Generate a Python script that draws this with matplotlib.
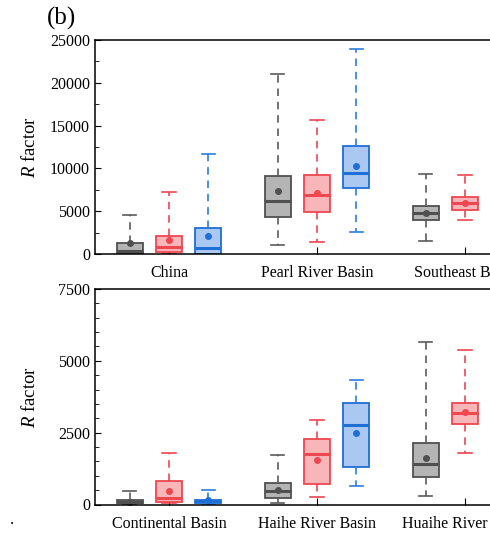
import numpy as np
import matplotlib
matplotlib.use('Agg')
import matplotlib.pyplot as plt

plt.rcParams['font.family'] = ['Liberation Serif', 'DejaVu Serif']
plt.rcParams['mathtext.fontset'] = 'custom'
plt.rcParams['mathtext.it'] = 'Liberation Serif:italic'
plt.rcParams['mathtext.rm'] = 'Liberation Serif'

# Regions (third group is cut off at the right edge of the picture)
top_regions = ['China', 'Pearl River Basin', 'Southeast Basin']
bottom_regions = ['Continental Basin', 'Haihe River Basin', 'Huaihe River Basin']

# Box statistics, one inner list per series (gray, red, blue), one value per region
top_whislo = [[0, 1010, 1480], [0, 1440, 4010], [0, 2530, 4500]]
top_q1 = [[50, 4320, 3970], [270, 4900, 5140], [50, 7750, 6000]]
top_med = [[350, 6150, 4830], [850, 6850, 5960], [660, 9420, 7000]]
top_q3 = [[1250, 9150, 5650], [2100, 9190, 6620], [3040, 12650, 8000]]
top_whishi = [[4560, 21030, 9300], [7280, 15650, 9190], [11680, 23910, 11000]]
top_mean = [[1250, 7320, 4830], [1640, 7090, 5960], [2070, 10320, 7200]]

bot_whislo = [[0, 35, 313], [35, 267, 1800], [0, 639, 2000]]
bot_q1 = [[35, 209, 940], [90, 720, 2810], [58, 1312, 3000]]
bot_med = [[90, 453, 1393], [220, 1765, 3193], [128, 2763, 3600]]
bot_q3 = [[150, 731, 2148], [813, 2276, 3530], [174, 3518, 4200]]
bot_whishi = [[464, 1707, 5666], [1776, 2937, 5364], [522, 4331, 6000]]
bot_mean = [[100, 500, 1614], [453, 1533, 3216], [150, 2473, 3700]]

face_colors = ['#b4b4b4', '#f8b6b9', '#aac8f1']
edge_colors = ['#505050', '#ee4750', '#1e6fd6']
whisk_colors = ['#5a5a5a', '#ee4750', '#2a7de0']

offset = 0.264
box_w = 0.176


def draw_panel(ax, regions, whislo, q1, med, q3, whishi, mean):
    centers = np.arange(1, len(regions) + 1)
    for s in range(3):
        stats = []
        for r in range(len(regions)):
            stats.append(dict(whislo=whislo[s][r], q1=q1[s][r], med=med[s][r],
                              q3=q3[s][r], whishi=whishi[s][r], mean=mean[s][r],
                              fliers=[]))
        pos = centers + (s - 1) * offset
        ax.bxp(stats, positions=pos, widths=box_w, patch_artist=True,
               showmeans=True, manage_ticks=False,
               boxprops=dict(facecolor=face_colors[s], edgecolor=edge_colors[s], linewidth=1.3),
               medianprops=dict(color=edge_colors[s], linewidth=2.2),
               whiskerprops=dict(color=whisk_colors[s], linewidth=1.2, linestyle=(0, (4.5, 3.5))),
               capprops=dict(color=whisk_colors[s], linewidth=1.2),
               capwidths=box_w * 0.5,
               meanprops=dict(marker='o', markersize=4, markerfacecolor=edge_colors[s],
                              markeredgecolor=edge_colors[s]))
    ax.set_xticks(centers)
    ax.set_xticklabels(regions, fontsize=11.5)
    ax.set_xlim(0.5, 0.5 + 395 / 148)
    ax.spines['right'].set_visible(False)
    for sp in ['left', 'bottom', 'top']:
        ax.spines[sp].set_linewidth(1.1)
    ax.tick_params(axis='both', which='both', direction='in', labelsize=11.5)
    ax.tick_params(axis='x', length=5, pad=8)
    ax.tick_params(axis='y', which='major', length=4)
    ax.tick_params(axis='y', which='minor', length=3)
    ax.set_ylabel('$R$ factor', fontsize=13.5)
    ax.yaxis.set_label_coords(-0.143, 0.5)


fig = plt.figure(figsize=(4.9, 5.38), dpi=100)
ax1 = fig.add_axes([95 / 490, 1 - 254 / 538, 1 - 95 / 490, 214 / 538])
ax2 = fig.add_axes([95 / 490, 1 - 504.5 / 538, 1 - 95 / 490, 215.5 / 538])

draw_panel(ax1, top_regions, top_whislo, top_q1, top_med, top_q3, top_whishi, top_mean)
ax1.set_ylim(0, 25000)
ax1.set_yticks(np.arange(0, 25001, 5000))
ax1.set_yticks(np.arange(0, 25001, 2500), minor=True)

draw_panel(ax2, bottom_regions, bot_whislo, bot_q1, bot_med, bot_q3, bot_whishi, bot_mean)
ax2.set_ylim(0, 7500)
ax2.set_yticks(np.arange(0, 7501, 2500))
ax2.set_yticks(np.arange(0, 7501, 500), minor=True)

fig.text(47 / 490, 1 - 18 / 538, '(b)', fontsize=18, va='center', ha='left')
fig.text(12 / 490, 1 - 520 / 538, '.', fontsize=12, va='center', ha='center')

fig.savefig('out.png', dpi=100)
